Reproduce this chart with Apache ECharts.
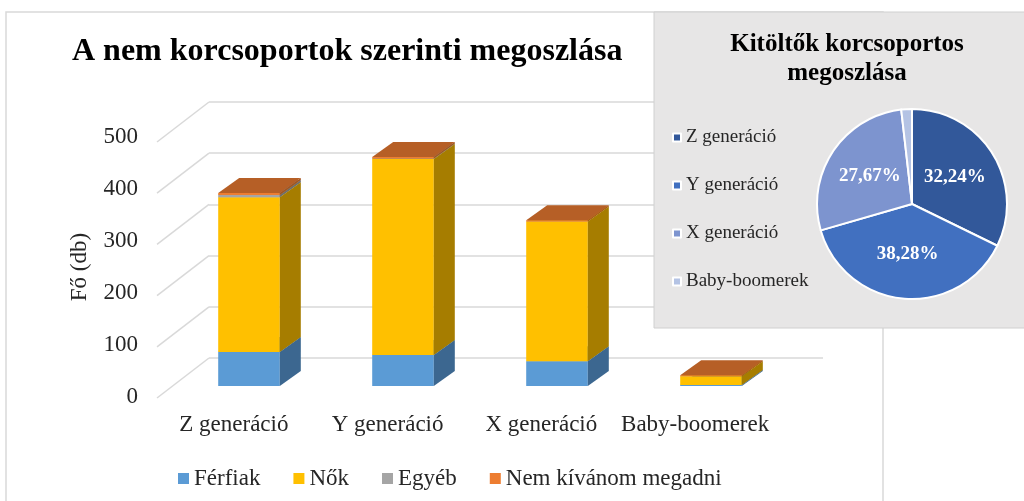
<!DOCTYPE html>
<html>
<head>
<meta charset="utf-8">
<script src="https://cdn.jsdelivr.net/npm/echarts@6/dist/echarts.min.js"></script>
<style>
  html, body { margin: 0; padding: 0; background: #fff; }
  #chart { width: 1024px; height: 501px; }
</style>
</head>
<body>
<div id="chart"></div>
<script>
// adatok
var categories = ['Z generáció', 'Y generáció', 'X generáció', 'Baby-boomerek'];
var seriesNames = ['Férfiak', 'Nők', 'Egyéb', 'Nem kívánom megadni'];
var ferfiak = [66, 60, 48, 2];
var nok = [300, 380, 271, 17];
var egyeb = [4, 1, 0, 0];
var nemKivanom = [4, 3, 2, 2];
var yTicks = [0, 100, 200, 300, 400, 500];

var serif = '"Liberation Serif", "Times New Roman", serif';
var barColors = ['#5B9BD5', '#FFC000', '#A5A5A5', '#ED7D31'];
var sideColors = ['#3C6790', '#A67D00', '#6E6E6E', '#A3541F'];
var topColors = ['#4A80B0', '#C99700', '#8A8A8A', '#B65F26'];
var pieColors = ['#32589A', '#4170C0', '#7D94CF', '#B4C3E4'];

var DX = 21, DY = 15; // oszlop mélysége

var chart = echarts.init(document.getElementById('chart'));

// halmozott szakaszok
var values = [ferfiak, nok, egyeb, nemKivanom];
var cum = [0, 0, 0, 0];
var stackData = values.map(function (arr) {
    return arr.map(function (v, i) {
        var item = [i, cum[i], cum[i] + v];
        cum[i] += v;
        return item;
    });
});
var totals = cum.slice();

function makeRender(s) {
    return function (params, api) {
        var a = api.value(1), b = api.value(2);
        if (b - a <= 0) return null;
        var p0 = api.coord([api.value(0), a]);
        var p1 = api.coord([api.value(0), b]);
        var bw = api.size([1, 0])[0] * 0.4;
        var x0 = p0[0] - bw / 2, x1 = x0 + bw, yb = p0[1], yt = p1[1];
        return {
            type: 'group',
            children: [
                { type: 'rect', shape: { x: x0, y: yt, width: bw, height: yb - yt },
                  style: { fill: barColors[s] } },
                { type: 'polygon', shape: { points: [[x1, yb], [x1 + DX, yb - DY], [x1 + DX, yt - DY], [x1, yt]] },
                  style: { fill: sideColors[s] } },
                { type: 'polygon', shape: { points: [[x0, yt], [x1, yt], [x1 + DX, yt - DY], [x0 + DX, yt - DY]] },
                  style: { fill: topColors[s] } }
            ]
        };
    };
}

var barSeries = seriesNames.map(function (name, s) {
    return {
        name: name,
        type: 'custom',
        xAxisIndex: 1,
        yAxisIndex: 1,
        z: 3,
        itemStyle: { color: barColors[s] },
        renderItem: makeRender(s),
        encode: { x: 0, y: [1, 2] },
        data: stackData[s]
    };
});

var option = {
    backgroundColor: '#fff',
    animation: false,
    graphic: [
        { type: 'rect', z: -10, shape: { x: 6, y: 12, width: 877, height: 500 },
          style: { fill: '#fff', stroke: '#D9D9D9', lineWidth: 1.5 } },
        { type: 'rect', z: 5, shape: { x: 654, y: 12, width: 380, height: 316 },
          style: { fill: '#E7E6E6', stroke: '#D0D0D0', lineWidth: 1 } }
    ],
    title: [
        {
            text: 'A nem korcsoportok szerinti megoszlása',
            left: 67, top: 31,
            textStyle: { fontFamily: serif, fontSize: 32, fontWeight: 'bold', color: '#000' }
        },
        {
            text: 'Kitöltők korcsoportos\nmegoszlása',
            left: 842, top: 25, textAlign: 'center',
            z: 10,
            textStyle: { fontFamily: serif, fontSize: 25, fontWeight: 'bold', color: '#000', lineHeight: 29 }
        }
    ],
    legend: [
        {
            data: seriesNames.map(function (n, s) { return { name: n, icon: 'rect', itemStyle: { color: barColors[s] } }; }),
            left: 173, top: 462,
            itemWidth: 11, itemHeight: 11, itemGap: 33,
            textStyle: { fontFamily: serif, fontSize: 23, color: '#262626' }
        },
        {
            data: categories,
            orient: 'vertical',
            left: 667, top: 122,
            z: 20,
            itemWidth: 8, itemHeight: 8, itemGap: 27,
            icon: 'rect',
            textStyle: { fontFamily: serif, fontSize: 19, color: '#262626', lineHeight: 21 }
        }
    ],
    grid: [
        { left: 157, right: 252, top: 137, bottom: 104 },   // elülső él (feliratok)
        { left: 172, right: 236, top: 128, bottom: 115 },   // oszlopok síkja
        { left: 209, right: 201, top: 102, bottom: 143 }    // hátsó fal
    ],
    xAxis: [
        { gridIndex: 0, type: 'category', data: categories,
          axisLine: { show: false }, axisTick: { show: false },
          axisLabel: { interval: 0, margin: 16, fontFamily: serif, fontSize: 23, color: '#262626' } },
        { gridIndex: 1, type: 'category', data: categories, show: false },
        { gridIndex: 2, type: 'category', data: categories, show: false }
    ],
    yAxis: [
        { gridIndex: 0, type: 'value', min: 0, max: 500, interval: 100,
          name: 'Fő (db)', nameLocation: 'middle', nameGap: 66,
          nameTextStyle: { fontFamily: serif, fontSize: 23, color: '#262626' },
          axisLine: { show: false }, axisTick: { show: false }, splitLine: { show: false },
          axisLabel: { margin: 19, fontFamily: serif, fontSize: 23, color: '#262626' } },
        { gridIndex: 1, type: 'value', min: 0, max: 500, interval: 100, show: false, splitLine: { show: false } },
        { gridIndex: 2, type: 'value', min: 0, max: 500, interval: 100,
          axisLine: { show: false }, axisTick: { show: false }, axisLabel: { show: false },
          splitLine: { show: true, lineStyle: { color: '#D9D9D9', width: 1.5 } } }
    ],
    series: [
        {
            name: 'ferde',
            type: 'custom',
            xAxisIndex: 2,
            yAxisIndex: 2,
            z: 1,
            silent: true,
            renderItem: function (params, api) {
                var p = api.coord([0, api.value(1)]);
                var x = params.coordSys.x;
                return { type: 'line', shape: { x1: x, y1: p[1], x2: x - 52, y2: p[1] + 40 },
                         style: { stroke: '#D9D9D9', lineWidth: 1.5 } };
            },
            encode: { x: 0, y: 1 },
            data: yTicks.map(function (t) { return [0, t]; })
        }
    ].concat(barSeries).concat([
        {
            name: 'Korcsoport',
            type: 'pie',
            z: 10,
            center: [912, 204],
            radius: 95,
            startAngle: 90,
            clockwise: true,
            color: pieColors,
            itemStyle: { borderColor: '#fff', borderWidth: 2 },
            label: {
                show: true, position: 'inside',
                fontFamily: serif, fontSize: 19, fontWeight: 'bold', color: '#fff',
                formatter: function (p) { return p.percent.toFixed(2).replace('.', ',') + '%'; }
            },
            labelLine: { show: false },
            data: categories.map(function (c, i) {
                var d = { name: c, value: totals[i] };
                if (i === 3) d.label = { show: false };
                return d;
            })
        }
    ])
};

chart.setOption(option);
</script>
</body>
</html>
